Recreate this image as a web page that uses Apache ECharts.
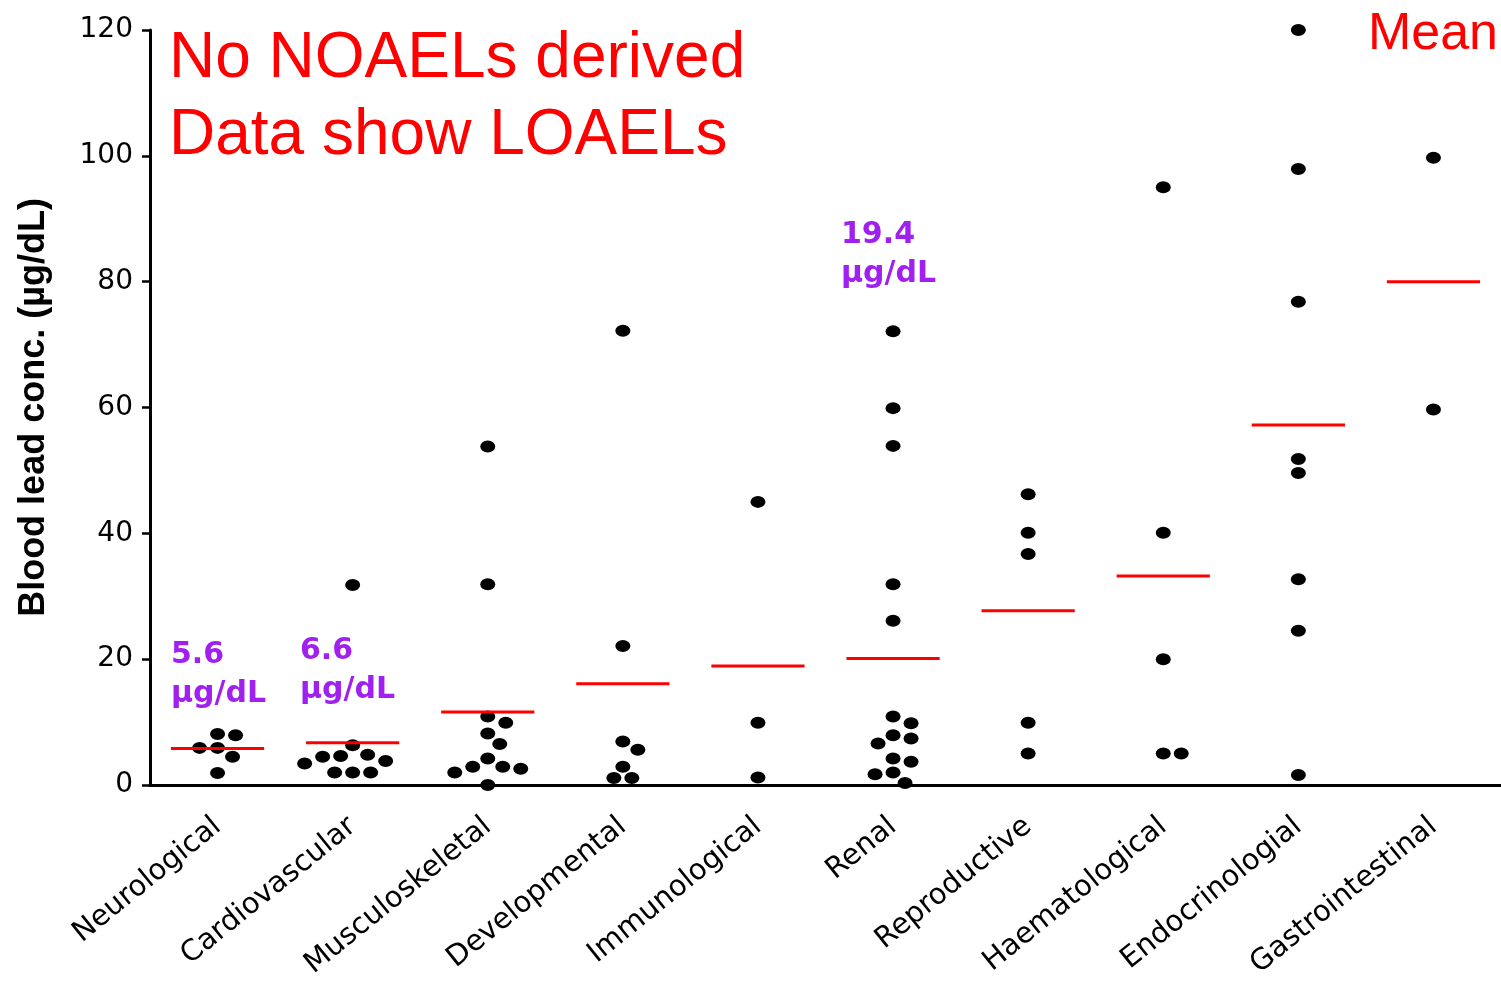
<!DOCTYPE html>
<html><head><meta charset="utf-8">
<script src="https://cdn.jsdelivr.net/npm/echarts@6/dist/echarts.min.js"></script>
<style>html,body{margin:0;padding:0;background:#fff}#chart{width:1501px;height:982px}</style>
</head><body><div id="chart"></div>
<script>
const categories = ['Neurological','Cardiovascular','Musculoskeletal','Developmental','Immunological','Renal','Reproductive','Haematological','Endocrinologial','Gastrointestinal'];
const neurological = [8.1, 7.9, 5.9, 5.9, 4.5, 1.9];
const cardiovascular = [31.8, 6.3, 4.8, 4.6, 4.5, 3.8, 3.4, 2.0, 2.0, 2.0];
const musculoskeletal = [53.8, 31.9, 10.9, 9.9, 8.2, 6.5, 4.2, 2.9, 2.9, 2.6, 2.0, 0.0];
const developmental = [72.2, 22.1, 6.9, 5.6, 2.9, 1.1, 1.1];
const immunological = [45.0, 9.9, 1.2];
const renal = [72.1, 59.9, 53.9, 31.9, 26.1, 10.9, 9.8, 7.9, 7.4, 6.6, 4.2, 3.7, 2.0, 1.7, 0.3];
const reproductive = [46.2, 40.1, 36.7, 9.9, 5.0];
const haematological = [95.0, 40.1, 20.0, 5.0, 5.0];
const endocrinological = [120, 97.9, 76.8, 51.8, 49.6, 32.7, 24.5, 1.6];
const gastrointestinal = [99.7, 59.7];
const groupValues = [neurological, cardiovascular, musculoskeletal, developmental, immunological, renal, reproductive, haematological, endocrinological, gastrointestinal];
const meanValues = [5.8, 6.7, 11.6, 16.1, 18.9, 20.1, 27.7, 33.2, 57.2, 80.0];
const yTicks = [0, 20, 40, 60, 80, 100, 120];
const yAxisTitle = 'Blood lead conc. (\u00b5g/dL)';
const titleText = 'No NOAELs derived\nData show LOAELs';
const meanText = 'Mean';
const noteNeuro = '5.6\n\u00b5g/dL';
const noteCardio = '6.6\n\u00b5g/dL';
const noteRenal = '19.4\n\u00b5g/dL';

const chart = echarts.init(document.getElementById('chart'), null, {renderer: 'canvas'});
const DOT = [15, 12];

const purple = '#A020F0';
function note(text, left, top) {
  return {type: 'text', left: left, top: top, z: 10,
    style: {text: text, fill: purple, fontSize: 30, fontWeight: 'bold', fontFamily: 'DejaVu Sans', lineHeight: 39}};
}

chart.setOption({
  animation: false,
  backgroundColor: '#fff',
  grid: {left: 150, top: 30, width: 1357, height: 755, containLabel: false},
  xAxis: [
    {type: 'category', data: categories, boundaryGap: true,
     axisLine: {onZero: false, lineStyle: {color: '#000', width: 3}},
     axisTick: {alignWithLabel: true, length: 10, lineStyle: {color: '#000', width: 3}},
     axisLabel: {rotate: 39, interval: 0, fontSize: 29, fontFamily: 'DejaVu Sans', color: '#000', margin: 38},
     splitLine: {show: false}},
    {type: 'value', min: -0.5, max: 9.5, show: false}
  ],
  yAxis: {type: 'value', min: yTicks[0], max: yTicks[yTicks.length - 1], interval: yTicks[1] - yTicks[0],
    name: yAxisTitle, nameLocation: 'middle', nameGap: 98,
    nameTextStyle: {fontSize: 36, fontWeight: 'bold', fontFamily: 'Liberation Sans', color: '#000'},
    axisLine: {show: true, onZero: false, lineStyle: {color: '#000', width: 3}},
    axisTick: {show: true, length: 8, lineStyle: {color: '#000', width: 2.5}},
    axisLabel: {fontSize: 28, fontFamily: 'DejaVu Sans', color: '#000', margin: 17},
    splitLine: {show: false}},
  graphic: [
    {type: 'text', left: 169, top: 21, z: 10,
     style: {text: titleText, fill: '#ff0000', fontSize: 64, fontFamily: 'Liberation Sans', lineHeight: 77}},
    {type: 'text', right: 3, top: 9, z: 10,
     style: {text: meanText, fill: '#ff0000', fontSize: 52, fontFamily: 'Liberation Sans', lineHeight: 52}},
    note(noteNeuro, 171, 636),
    note(noteCardio, 300, 632),
    note(noteRenal, 841, 216)
  ],
  series: [
    {id: 'dots', type: 'scatter', xAxisIndex: 1, yAxisIndex: 0, symbol: 'circle', symbolSize: DOT,
     itemStyle: {color: '#000', opacity: 1}, clip: false, z: 2, data: []},
    {id: 'means', type: 'custom', xAxisIndex: 1, yAxisIndex: 0, clip: false, z: 3,
     encode: {x: 0, y: 1},
     data: meanValues.map((m, i) => [i, m]),
     renderItem: function (params, api) {
       const i = api.value(0), m = api.value(1);
       const p1 = api.coord([i - 0.345, m]), p2 = api.coord([i + 0.345, m]);
       return {type: 'line', shape: {x1: p1[0], y1: p1[1], x2: p2[0], y2: p2[1]},
               style: {stroke: '#ff0000', lineWidth: 3}};
     }}
  ]
});

// Beeswarm placement computed from the chart's own scales
const unitPx = chart.convertToPixel({xAxisIndex: 1}, 1) - chart.convertToPixel({xAxisIndex: 1}, 0);
const CW = 18, CH = 13; // collision ellipse (px)
const points = [];
groupValues.forEach((vals, ci) => {
  const placed = [];
  const sorted = vals.slice().sort((a, b) => b - a);
  sorted.forEach(v => {
    const py = chart.convertToPixel({yAxisIndex: 0}, v);
    let chosen = 0;
    for (let k = 0; k < 60; k++) {
      const off = (k === 0) ? 0 : (k % 2 === 1 ? 1 : -1) * Math.ceil(k / 2) * 3;
      const ok = placed.every(p => {
        const dx = (p[0] - off) / CW, dy = (p[1] - py) / CH;
        return dx * dx + dy * dy >= 1;
      });
      if (ok) { chosen = off; break; }
    }
    placed.push([chosen, py]);
    points.push([ci + chosen / unitPx, v]);
  });
});
chart.setOption({series: [{id: 'dots', data: points}]});
</script>
</body></html>
